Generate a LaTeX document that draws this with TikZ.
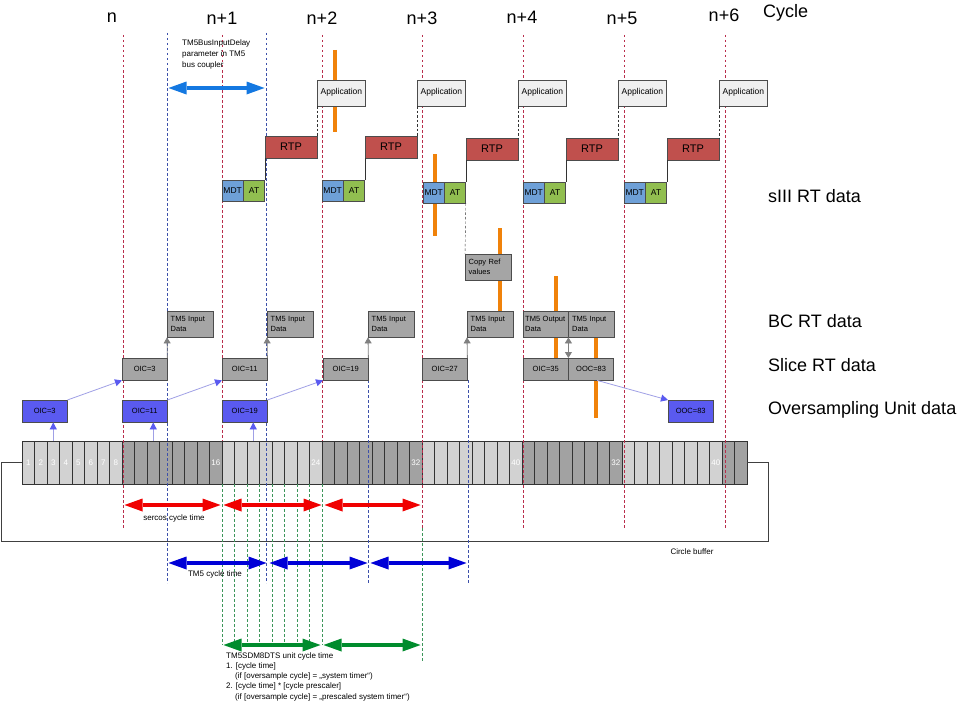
\documentclass[tikz,border=0pt]{standalone}
\usepackage{fontspec}
\setmainfont{Liberation Sans}
\usetikzlibrary{arrows.meta,positioning}
\definecolor{rtpred}{RGB}{192,80,77}
\definecolor{mdtblue}{RGB}{110,160,215}
\definecolor{atgreen}{RGB}{145,190,80}
\definecolor{boxgray}{RGB}{165,165,165}
\definecolor{osblue}{RGB}{90,90,240}
\definecolor{appfill}{RGB}{240,240,240}
\definecolor{barorange}{RGB}{240,130,10}
\definecolor{cyclered}{RGB}{185,45,75}
\definecolor{tmblue}{RGB}{60,80,170}
\definecolor{osgreen}{RGB}{60,150,90}
\definecolor{cellA}{RGB}{210,210,210}
\definecolor{cellB}{RGB}{162,162,162}
\definecolor{arrred}{RGB}{240,0,0}
\definecolor{arrblue}{RGB}{0,0,215}
\definecolor{arrgreen}{RGB}{0,140,45}
\definecolor{delayblue}{RGB}{20,120,225}
\definecolor{linkviolet}{RGB}{160,160,230}

\begin{document}
\begin{tikzpicture}[x=1pt,y=-1pt]
\tikzset{
  box/.style={draw=black!70, inner sep=0pt, font=\fontsize{7.5}{9}\selectfont},
  app/.style={box, fill=appfill, minimum width=48pt, minimum height=26pt, font=\fontsize{8.5}{10}\selectfont},
  rtp/.style={box, fill=rtpred, minimum width=52pt, minimum height=22pt, font=\fontsize{11}{12}\selectfont},
  mdt/.style={box, fill=mdtblue, minimum width=21pt, minimum height=21pt, font=\fontsize{8.5}{10}\selectfont},
  atbox/.style={mdt, fill=atgreen},
  gbox/.style={box, fill=boxgray, minimum height=26pt, text width=39pt, align=left, inner xsep=3.5pt, font=\fontsize{7.5}{10}\selectfont},
  slice/.style={box, fill=boxgray, minimum width=45pt, minimum height=22pt},
  os/.style={box, fill=osblue, minimum width=45pt, minimum height=22pt},
  cell/.style={draw=black!80, inner sep=0pt, minimum width=12.5pt, minimum height=43pt},
  celltext/.style={font=\fontsize{8}{9}\selectfont, text=white, inner sep=0pt},
  cyclab/.style={font=\fontsize{18}{20}\selectfont},
  rowlab/.style={font=\fontsize{18}{20}\selectfont, anchor=west, inner sep=0pt},
  note/.style={font=\fontsize{8}{10.3}\selectfont, align=left, inner sep=0pt},
  cycline/.style={cyclered, line width=0.7pt, dash pattern=on 2.5pt off 2.5pt},
  tmline/.style={tmblue, line width=0.7pt, dash pattern=on 2.5pt off 2.5pt},
  osline/.style={osgreen, line width=0.7pt, dash pattern=on 2.5pt off 2.5pt},
  bar/.style={barorange, line width=4pt},
  bigarrow/.style={line width=4pt, shorten <=1.5pt, shorten >=1.5pt,
    {Triangle[length=18pt,width=13pt,line width=0pt]}-{Triangle[length=18pt,width=13pt,line width=0pt]}},
  link/.style={linkviolet, line width=0.8pt, -{Triangle[length=7pt,width=7pt,color=osblue]}},
  grayarrow/.style={gray, line width=0.8pt, -{Triangle[length=6pt,width=7pt]}},
}
\fill[white] (0,0) rectangle (963,709);

\foreach \x/\y/\t [count=\i from 0] in {112/18/n, 222/18/n+1, 322/18/n+2, 422/18/n+3, 522/17/n+4, 622/18/n+5, 724/15/n+6}
  \node[cyclab] (cyc\i) at (\x,\y) {\t};
\node[cyclab, anchor=west, inner sep=0pt] (cyclelab) at (763,13) {Cycle};

\foreach \i in {1,...,58}{
  \pgfmathtruncatemacro\band{mod(floor((\i-1)/8),2)}
  \ifnum\band=0 \def\cellcol{cellA}\else\def\cellcol{cellB}\fi
  \node[cell, fill=\cellcol] (c\i) at (15.75+12.5*\i,462.5) {};
}
\foreach \i/\t in {1/1,2/2,3/3,4/4,5/5,6/6,7/7,8/8,16/16,24/24,32/32,40/40,48/32,56/40}
  \node[celltext] (cl\i) at (c\i) {\t};
\draw[black!75] (c1.west) -- ++(-21,0) |- (768,541) |- (c58.east);
\node[note] (buftxt) at (692,552) {Circle buffer};

\foreach \x in {123,422,523,624,725} \draw[cycline] (\x,35) -- (\x,528);
\foreach \x in {222,322} \draw[cycline] (\x,35) -- (\x,441);
\foreach \x in {167,266} \draw[tmline] (\x,33) -- (\x,583);
\foreach \x in {368,468} \draw[tmline] (\x,380) -- (\x,583);
\foreach \k in {0,...,8} \draw[osline] (222+12.5*\k,484) -- (222+12.5*\k,645);
\draw[osline] (422,528) -- (422,662);

\draw[bar] (335,50) -- (335,132);
\draw[bar] (435,154) -- (435,236);
\draw[bar] (500,228) -- (500,311);
\draw[bar] (556,276) -- (556,358);
\draw[bar] (596,337) -- (596,418);

\coordinate (apptop) at (0,106);
\foreach \i/\x/\y in {1/222/180, 2/322/180, 3/423/182, 4/523/182, 5/624/182}{
  \node[mdt, anchor=north west] (mdt\i) at (\x,\y) {MDT};
  \node[atbox, right=0pt of mdt\i] (at\i) {AT};
  \node[rtp, anchor=south west] (rtp\i) at ([yshift=22pt]at\i.north east) {RTP};
  \node[app, anchor=south west] (app\i) at (rtp\i.north east |- apptop) {Application};
  \draw[black!80, dash pattern=on 2.5pt off 2pt] (app\i.south west) -- (rtp\i.north east);
  \draw[black!80] (rtp\i.south west) -- (at\i.north east);
}

\node[gbox, anchor=north west] (copy) at (465,254) {Copy Ref\\values};
\draw[black!80, dash pattern=on 2.5pt off 2pt] (at3.south east) -- (copy.north west);

\foreach \i/\x in {1/167,2/267,3/368,4/467}
  \node[gbox, anchor=north west] (in\i) at (\x,311) {TM5 Input\\Data};
\node[gbox, text width=41pt, inner xsep=2pt, anchor=north west] (out5) at (523,311) {TM5 Output\\Data};
\node[gbox, anchor=north west] (in5) at (out5.north east) {TM5 Input\\Data};

\foreach \i/\x/\t in {1/122/OIC=3, 2/222/OIC=11, 3/323/OIC=19, 4/422/OIC=27, 5/523/OIC=35}
  \node[slice, anchor=north west] (sl\i) at (\x,358) {\t};
\node[slice, anchor=north west] (sl6) at (sl5.north east) {OOC=83};

\foreach \i/\x/\t in {1/22/OIC=3, 2/122/OIC=11, 3/222/OIC=19, 4/668/OOC=83}
  \node[os, anchor=north west] (os\i) at (\x,400) {\t};

\foreach \i in {1,2,3} \draw[link] (os\i.north east) -- (sl\i.south west);
\draw[link] ([xshift=6pt]sl6.south) -- (os4.north west);
\foreach \i/\c in {1/3,2/11,3/19} \draw[link] (c\c.north) -- (c\c.north |- os\i.south);
\foreach \i in {1,...,4} \draw[grayarrow] (sl\i.north east) -- (in\i.south west);
\draw[grayarrow, {Triangle[length=6pt,width=7pt]}-{Triangle[length=6pt,width=7pt]}] (sl6.north west) -- (in5.south west);

\coordinate (dl0) at (167,88);
\coordinate (dl1) at (266,88);
\draw[bigarrow, delayblue] (dl0) -- (dl1);
\node[note, font=\fontsize{8}{11}\selectfont, anchor=north west] (delaytxt) at (182,40) {TM5BusInputDelay\\parameter in TM5\\bus coupler};

\foreach \x [count=\i from 0] in {123,222,323,422} \coordinate (sc\i) at (\x,505);
\draw[bigarrow, arrred] (sc0) -- (sc1);
\draw[bigarrow, arrred] (sc1) -- (sc2);
\draw[bigarrow, arrred] (sc2) -- (sc3);
\node[note] (sercostxt) at (174,518) {sercos cycle time};

\foreach \x [count=\i from 0] in {167,268,369,468} \coordinate (tc\i) at (\x,563);
\draw[bigarrow, arrblue] (tc0) -- (tc1);
\draw[bigarrow, arrblue] (tc1) -- (tc2);
\draw[bigarrow, arrblue] (tc2) -- (tc3);
\node[note] (tmtxt) at (215,574) {TM5 cycle time};

\foreach \x [count=\i from 0] in {222,322,422} \coordinate (gc\i) at (\x,645);
\draw[bigarrow, arrgreen] (gc0) -- (gc1);
\draw[bigarrow, arrgreen] (gc1) -- (gc2);
\node[note, anchor=north west] (ostxt) at (226,652) {TM5SDM8DTS unit cycle time\\1. [cycle time]\\\hspace*{9pt}(if [oversample cycle] = „system timer“)\\2. [cycle time] * [cycle prescaler]\\\hspace*{9pt}(if [oversample cycle] = „prescaled system timer“)};

\node[rowlab] (sIIIlab) at (768,196) {sIII RT data};
\node[rowlab] (bclab) at (768,321) {BC RT data};
\node[rowlab] (slicelab) at (768,365) {Slice RT data};
\node[rowlab] (oslab) at (768,410) {Oversampling Unit data};
\end{tikzpicture}
\end{document}
